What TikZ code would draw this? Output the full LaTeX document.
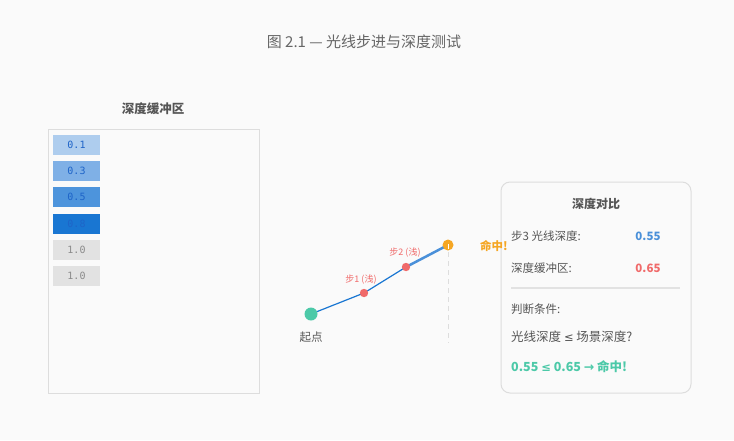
\documentclass[tikz,border=0pt]{standalone}
\usepackage{fontspec}
\setmainfont{Noto Sans CJK SC}
\newfontfamily\monofont{DejaVu Sans Mono}
\newfontfamily\symfont{DejaVu Sans}
\definecolor{bgc}{HTML}{FAFAFA}
\definecolor{framec}{HTML}{DDDDDD}
\definecolor{titlec}{HTML}{666666}
\definecolor{textc}{HTML}{555555}
\definecolor{c1}{HTML}{AECDEE}
\definecolor{c3}{HTML}{7FB0E6}
\definecolor{c5}{HTML}{4D94DC}
\definecolor{c8}{HTML}{1976D2}
\definecolor{cg}{HTML}{E2E2E2}
\definecolor{celltxt}{HTML}{1E64C8}
\definecolor{graytxt}{HTML}{8A8A8A}
\definecolor{rayc}{HTML}{1976D2}
\definecolor{raylight}{HTML}{4A90D9}
\definecolor{startc}{HTML}{4CC9A8}
\definecolor{stepc}{HTML}{F06A6A}
\definecolor{hitc}{HTML}{F5A623}
\definecolor{bluev}{HTML}{4A90D9}
\definecolor{redv}{HTML}{F06A6A}
\definecolor{greenv}{HTML}{4CC9A8}
\begin{document}
\begin{tikzpicture}[x=1pt,y=-1pt,
  cell/.style={draw=none,minimum width=47pt,minimum height=20pt,inner sep=0pt,font=\monofont\fontsize{10}{11}\selectfont},
  lbl/.style={anchor=west,inner sep=0pt,text=textc,font=\fontsize{11.5}{13}\selectfont},
  val/.style={anchor=center,inner sep=0pt,font=\bfseries\fontsize{11.5}{13}\selectfont},
  steplbl/.style={inner sep=0pt,text=stepc,font=\fontsize{9}{10}\selectfont}]
\path[fill=bgc] (0,0) rectangle (734,440);
\useasboundingbox (0,0) rectangle (734,440);
% title
\node[text=titlec,font=\fontsize{15}{18}\selectfont] (title) at (364,42) {图 2.1 — 光线步进与深度测试};
% depth buffer
\node[text=textc,font=\bfseries\fontsize{12.5}{15}\selectfont] (dbtitle) at (153,109) {深度缓冲区};
\draw[framec,line width=1pt,fill=bgc] (48,129) rectangle (259,393);
\node[cell,fill=c1,text=celltxt] (b1) at (76.5,145) {0.1};
\node[cell,fill=c3,text=celltxt] (b2) at (76.5,171) {0.3};
\node[cell,fill=c5,text=celltxt] (b3) at (76.5,197) {0.5};
\node[cell,fill=c8,text=celltxt] (b4) at (76.5,223.5) {0.8};
\node[cell,fill=cg,text=graytxt] (b5) at (76.5,250) {1.0};
\node[cell,fill=cg,text=graytxt] (b6) at (76.5,276) {1.0};
% ray
\coordinate (s0) at (311,314);
\coordinate (s1) at (364,293);
\coordinate (s2) at (406,267);
\coordinate (hit) at (448,245);
\coordinate (hitlow) at (448,343);
\draw[framec,line width=1pt,dash pattern=on 5pt off 4pt] (448,252) -- (hitlow);
\draw[rayc,line width=1.2pt] (s0) -- (s1) -- (s2);
\draw[raylight,line width=2.5pt] (s2) -- (hit);
\fill[startc] (s0) circle (6.5pt);
\fill[stepc] (s1) circle (4.2pt);
\fill[stepc] (s2) circle (4.2pt);
\fill[hitc] (hit) circle (5.5pt);
\draw[white,line width=1pt] (448,244) -- (448,248.5);
\node[steplbl] (l1) at (361,280) {步1 (浅)};
\node[steplbl] (l2) at (405,253) {步2 (浅)};
\node[text=textc,font=\fontsize{11.5}{13}\selectfont] (startlbl) at (311,337) {起点};
% comparison panel
\draw[framec,line width=1pt,fill=bgc,rounded corners=9pt] (501,182) rectangle (691,393);
\node[text=hitc,font=\bfseries\fontsize{11.5}{13}\selectfont,inner sep=0pt,anchor=west] (hitlbl) at (480,246) {命中!};
\node[text=textc,font=\bfseries\fontsize{12}{14}\selectfont] (cmptitle) at (596,204) {深度对比};
\node[lbl] (r1) at (511,236) {步3 光线深度:};
\node[val,text=bluev] (v1) at (648,236) {0.55};
\node[lbl] (r2) at (511,268) {深度缓冲区:};
\node[val,text=redv] (v2) at (648,268) {0.65};
\draw[cg,line width=1.5pt] (511,288) -- (680,288);
\node[lbl] (r3) at (511,309) {判断条件:};
\node[lbl,font=\fontsize{12.5}{14}\selectfont] (r4) at (511,337) {光线深度 {\symfont\fontsize{11.5}{12}\selectfont ≤} 场景深度?};
\node[lbl,text=greenv,font=\bfseries\fontsize{12.5}{14}\selectfont] (r5) at (511,367) {0.55 {\symfont\bfseries\fontsize{11.5}{12}\selectfont ≤} 0.65 {\symfont\bfseries\fontsize{12.5}{12}\selectfont →} 命中!};
\end{tikzpicture}
\end{document}
